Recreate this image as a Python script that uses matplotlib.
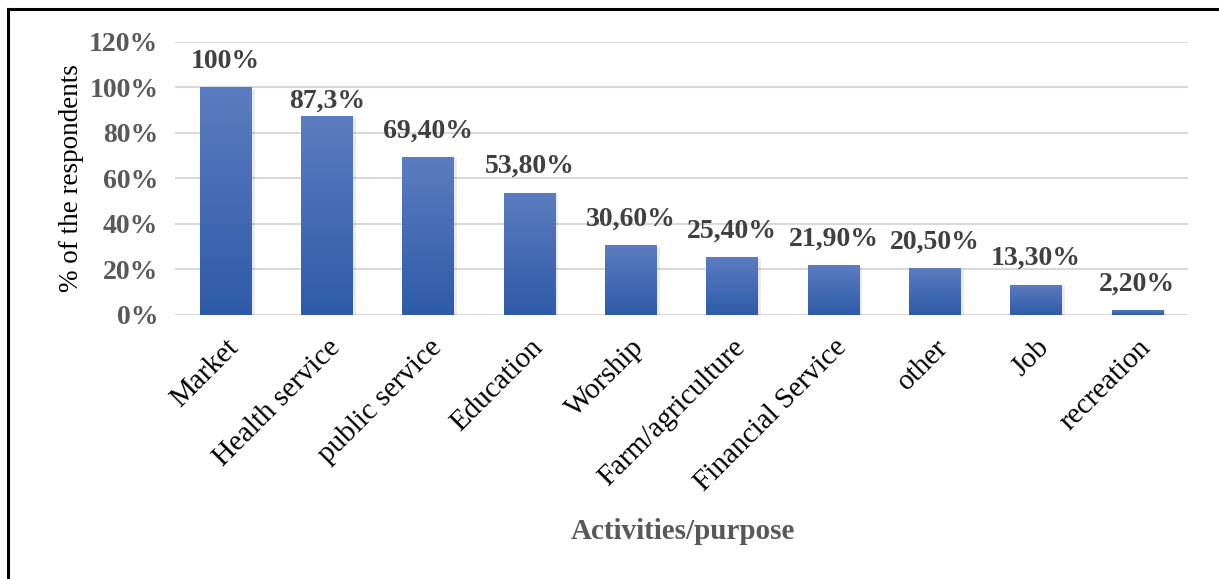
import matplotlib.pyplot as plt
import matplotlib.colors as mcolors
import numpy as np
from matplotlib.lines import Line2D

categories = ['Market', 'Health service', 'public service', 'Education', 'Worship',
              'Farm/agriculture', 'Financial Service', 'other', 'Job', 'recreation']
values = [100, 87.3, 69.4, 53.8, 30.6, 25.4, 21.9, 20.5, 13.3, 2.2]
value_labels = ['100%', '87,3%', '69,40%', '53,80%', '30,60%', '25,40%',
                '21,90%', '20,50%', '13,30%', '2,20%']
yticks = [0, 20, 40, 60, 80, 100, 120]

plt.rcParams['font.family'] = ['Liberation Serif', 'DejaVu Serif']

fig = plt.figure(figsize=(12.19, 5.79), dpi=100)
ax = fig.add_axes([0.1436, 0.456, 0.831, 0.4715])

x = np.arange(len(categories))
bars = ax.bar(x, values, width=0.51, color='#4a6fb8', zorder=3)

# vertical gradient inside each bar
grad = np.linspace(0, 1, 256).reshape(-1, 1)
cmap = mcolors.LinearSegmentedColormap.from_list('g', ['#2e5ba8', '#5c7cc0'])
for b in bars:
    x0, y0 = b.get_x(), b.get_y()
    w, h = b.get_width(), b.get_height()
    im = ax.imshow(grad, cmap=cmap, origin='lower', aspect='auto',
                   extent=[x0, x0 + w, y0, y0 + h], zorder=3)
    im.set_clip_path(b)
    # soft shadow
    ax.bar(x0 + w / 2 + 0.015, h, width=w + 0.03, bottom=-0.6, color='#000000',
           alpha=0.08, zorder=2)

for i, (xi, v, lab) in enumerate(zip(x, values, value_labels)):
    off = 1 if i == 1 else 6  # the 87,3% label sits a bit lower in the original
    ax.text(xi, v + off, lab, ha='center', va='bottom', fontsize=20,
            fontweight='bold', color='#404040')

ax.set_xlim(-0.5, len(categories) - 0.5)
ax.set_ylim(0, 120)
ax.set_yticks(yticks)
ax.set_yticklabels([f'{t}%' for t in yticks], fontsize=20, fontweight='bold', color='#595959')
ax.set_xticks(x)
ax.set_xticklabels(categories, rotation=45, ha='right', rotation_mode='anchor',
                   fontsize=21, color='black')
ax.tick_params(axis='both', length=0)
ax.tick_params(axis='y', pad=12)
ax.tick_params(axis='x', pad=14)
ax.grid(axis='y', color='#d9d9d9', linewidth=1.5, zorder=0)
for s in ax.spines.values():
    s.set_visible(False)

ax.set_ylabel('% of the respondents', fontsize=19.5, color='black', labelpad=4)
fig.text(0.56, 0.082, 'Activities/purpose', ha='center', va='center',
         fontsize=21, fontweight='bold', color='#595959')

# outer frame (top and left edges visible)
fig.add_artist(Line2D([0.0066, 1.0], [0.985, 0.985], color='black', linewidth=2.2,
                      transform=fig.transFigure))
fig.add_artist(Line2D([0.0066, 0.0066], [0.0, 0.985], color='black', linewidth=2.2,
                      transform=fig.transFigure))

fig.savefig('out.png', dpi=100, facecolor='white')
